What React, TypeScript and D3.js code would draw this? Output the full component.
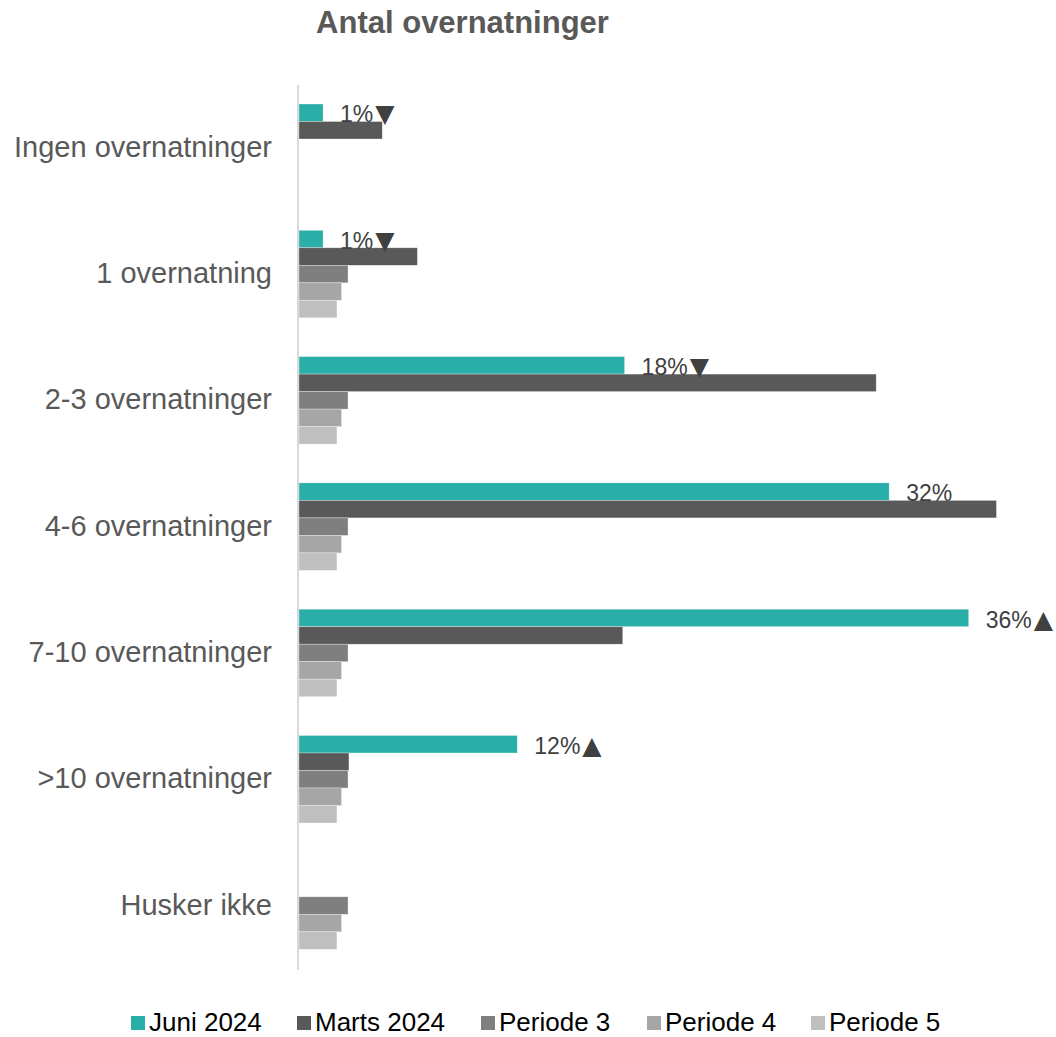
import React from 'react';
import * as d3 from 'd3';

const categories = [
  'Ingen overnatninger',
  '1 overnatning',
  '2-3 overnatninger',
  '4-6 overnatninger',
  '7-10 overnatninger',
  '>10 overnatninger',
  'Husker ikke',
];

const seriesNames = ['Juni 2024', 'Marts 2024', 'Periode 3', 'Periode 4', 'Periode 5'];
const seriesColors = ['#2aaea9', '#595959', '#7f7f7f', '#a6a6a6', '#bfbfbf'];

const juni = [1.3, 1.3, 17.6, 31.9, 36.2, 11.8, 0];
const marts = [4.5, 6.4, 31.2, 37.7, 17.5, 2.7, 0];
const periode3 = [0, 2.65, 2.65, 2.65, 2.65, 2.65, 2.65];
const periode4 = [0, 2.3, 2.3, 2.3, 2.3, 2.3, 2.3];
const periode5 = [0, 2.05, 2.05, 2.05, 2.05, 2.05, 2.05];

const juniLabels = ['1%', '1%', '18%', '32%', '36%', '12%', ''];
const juniArrows = ['▼', '▼', '▼', '', '▲', '▲', ''];

const W = 1056;
const H = 1037;

export default function App() {
  const series = [juni, marts, periode3, periode4, periode5];

  const x = d3.scaleLinear().domain([0, 40]).range([299, 299 + 740]);
  const y = d3.scaleBand<string>()
    .domain(categories)
    .range([84.6, 968.7])
    .paddingInner(0.307)
    .paddingOuter(0.1535);
  const ySub = d3.scaleBand<string>()
    .domain(seriesNames)
    .range([0, y.bandwidth()]);

  const legendX = [131, 297, 481, 647, 811];

  return (
    <svg
      width={W}
      height={H}
      style={{ position: 'absolute', left: 0, top: 0, background: '#fff' }}
      fontFamily="'Liberation Sans', Arial, sans-serif"
    >
      <text x={462.5} y={33} textAnchor="middle" fontSize={31} fontWeight="bold" fill="#595959">
        Antal overnatninger
      </text>

      {categories.map((c, i) => (
        <g key={c}>
          <text
            x={272}
            y={(y(c) as number) + y.bandwidth() / 2 + 9}
            textAnchor="end"
            fontSize={29}
            fill="#595959"
          >
            {c}
          </text>
          {series.map((vals, s) =>
            vals[i] > 0 ? (
              <rect
                key={s}
                x={x(0)}
                y={(y(c) as number) + (ySub(seriesNames[s]) as number)}
                width={x(vals[i]) - x(0)}
                height={ySub.bandwidth()}
                fill={seriesColors[s]}
                stroke="#ffffff"
                strokeOpacity={0.5}
                strokeWidth={0.6}
              />
            ) : null
          )}
          {juniLabels[i] ? (
            <text
              x={x(juni[i]) + 17}
              y={(y(c) as number) + ySub.bandwidth() + 1}
              fontSize={23}
              fill="#404040"
            >
              {juniLabels[i]}
              {juniArrows[i] ? (
                <tspan fontFamily="'DejaVu Sans', sans-serif" fontSize={25} dx={2}>
                  {juniArrows[i]}
                </tspan>
              ) : null}
            </text>
          ) : null}
        </g>
      ))}

      <line x1={298} x2={298} y1={85} y2={970} stroke="#d9d9d9" strokeWidth={2} />

      {seriesNames.map((n, s) => (
        <g key={n} transform={`translate(${legendX[s]},1016)`}>
          <rect x={0} y={0} width={14} height={14} fill={seriesColors[s]} />
          <text x={18} y={15} fontSize={26} fill="#000">
            {n}
          </text>
        </g>
      ))}
    </svg>
  );
}
